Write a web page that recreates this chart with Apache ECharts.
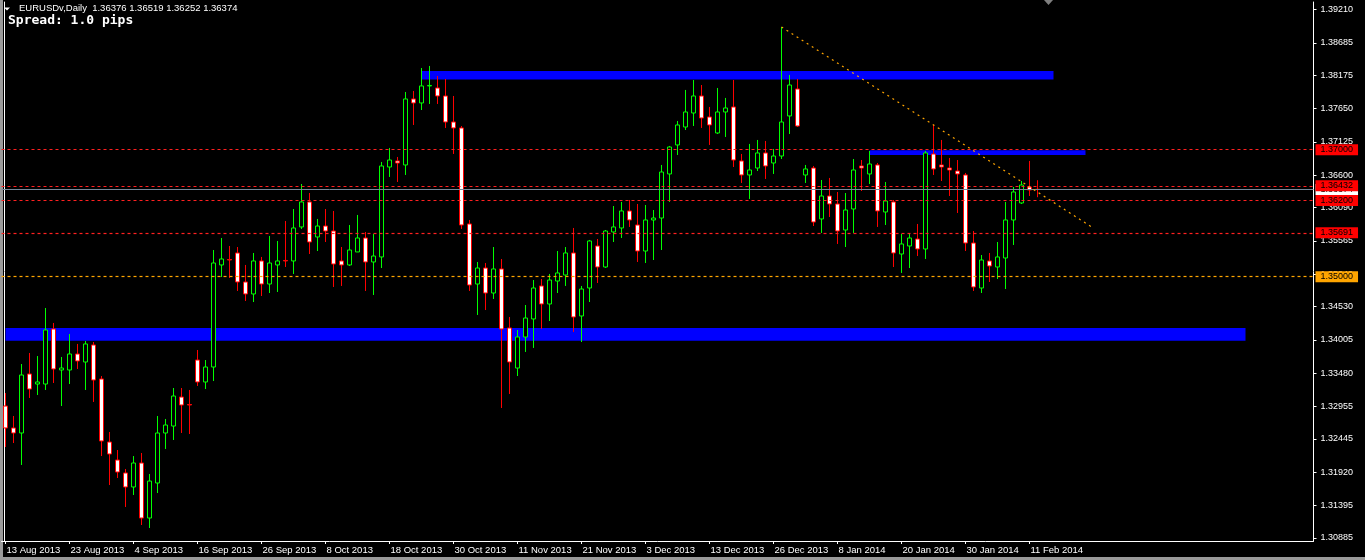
<!DOCTYPE html>
<html><head><meta charset="utf-8">
<script src="https://cdn.jsdelivr.net/npm/echarts@6/dist/echarts.min.js"></script>
<style>html,body{margin:0;padding:0;background:#000;}#c{width:1365px;height:560px;}</style>
</head><body><div id="c"></div>
<script>
// ---------- data ----------
const symbolTitle = 'EURUSDv,Daily';
const headerOHLC = [1.36376, 1.36519, 1.36252, 1.36374];
const spreadText = 'Spread: 1.0 pips';
const firstDay = '2013-08-13';
const marketHolidays = ['2013-12-25', '2014-01-01'];
const totalSlots = 164; // bars + empty chart shift on the right

const opens = [1.32961,1.32615,1.32536,1.33466,1.33308,1.33308,1.34175,1.33529,1.33529,1.33781,
1.33655,1.33923,1.33387,1.32394,1.32110,1.31906,1.31685,1.32063,1.31196,1.31748,
1.32536,1.32646,1.33103,1.32985,1.33686,1.33340,1.33576,1.35184,1.35270,1.35373,
1.34916,1.34727,1.35247,1.34884,1.35184,1.35255,1.35247,1.35783,1.36177,1.35625,
1.35798,1.35719,1.35247,1.35184,1.35389,1.35609,1.35231,1.35310,1.36728,1.36823,
1.36760,1.37800,1.37737,1.38005,1.37973,1.37847,1.37437,1.37343,1.35830,1.34884,
1.35136,1.34742,1.35121,1.34191,1.33560,1.34049,1.34333,1.34853,1.34569,1.34931,
1.35026,1.35373,1.34380,1.34821,1.35483,1.35152,1.35704,1.35767,1.36035,1.35814,
1.35404,1.35893,1.35924,1.36618,1.37075,1.37358,1.37579,1.37847,1.37516,1.37264,
1.37595,1.37674,1.36823,1.36602,1.36712,1.36949,1.36791,1.36901,1.37532,1.37957,
1.36602,1.36712,1.35909,1.36271,1.36145,1.35735,1.36066,1.36744,1.36618,1.36760,
1.36019,1.36177,1.35357,1.35483,1.35593,1.35436,1.36933,1.36760,1.36712,1.36665,
1.36602,1.35530,1.34821,1.35247,1.35152,1.35294,1.35893,1.36161,1.36413,1.36376];

const closes = [1.32615,1.32536,1.33450,1.33229,1.33340,1.34159,1.33545,1.33560,1.33781,1.33671,
1.33939,1.33371,1.32410,1.32205,1.31921,1.31685,1.32063,1.31196,1.31779,1.32536,
1.32662,1.33119,1.32977,1.32977,1.33340,1.33576,1.35215,1.35278,1.35262,1.34916,
1.34727,1.35247,1.34884,1.35215,1.35247,1.35247,1.35767,1.36177,1.35546,1.35798,
1.35719,1.35199,1.35184,1.35420,1.35609,1.35231,1.35325,1.36744,1.36838,1.36791,
1.37800,1.37737,1.38005,1.38013,1.37847,1.37437,1.37343,1.35814,1.34868,1.35136,
1.34742,1.35121,1.34175,1.33655,1.34049,1.34348,1.34821,1.34569,1.34947,1.35058,
1.35373,1.34364,1.34805,1.35562,1.35152,1.35719,1.35783,1.36035,1.35893,1.35404,
1.35893,1.35924,1.36649,1.37043,1.37390,1.37595,1.37847,1.37500,1.37390,1.37595,
1.37658,1.36838,1.36602,1.36681,1.36949,1.36744,1.36901,1.37437,1.38020,1.37374,
1.36697,1.35861,1.36271,1.36145,1.35719,1.36050,1.36681,1.36712,1.36775,1.36035,
1.36192,1.35373,1.35515,1.35609,1.35436,1.36949,1.36697,1.36728,1.36681,1.36618,
1.35530,1.34837,1.35262,1.35168,1.35310,1.35893,1.36334,1.36444,1.36366,1.36374];

const highs = [1.33166,1.32804,1.33623,1.33797,1.33749,1.34506,1.34270,1.33734,1.34096,1.33939,
1.33986,1.33970,1.33434,1.32552,1.32268,1.31969,1.32173,1.32221,1.31890,1.32804,
1.32757,1.33245,1.33245,1.33214,1.33844,1.33686,1.35420,1.35609,1.35483,1.35467,
1.35184,1.35373,1.35310,1.35641,1.35562,1.35877,1.36066,1.36460,1.36318,1.35909,
1.36066,1.36035,1.35467,1.35814,1.35972,1.35704,1.35672,1.36807,1.37028,1.36886,
1.37910,1.37926,1.38288,1.38320,1.38162,1.38115,1.37847,1.37374,1.35893,1.35231,
1.35215,1.35467,1.35278,1.34364,1.34159,1.34553,1.34947,1.34963,1.35042,1.35404,
1.35467,1.35767,1.34853,1.35578,1.35593,1.35735,1.36113,1.36177,1.36208,1.36145,
1.36129,1.36050,1.36760,1.37059,1.37453,1.37942,1.38099,1.38020,1.37674,1.37973,
1.37816,1.38099,1.36933,1.37091,1.37154,1.37138,1.37012,1.38935,1.38178,1.38115,
1.36760,1.36744,1.36523,1.36555,1.36334,1.36318,1.36854,1.36838,1.36980,1.36791,
1.36492,1.36208,1.35672,1.35672,1.35830,1.36980,1.37390,1.37154,1.36870,1.36838,
1.36634,1.35719,1.35341,1.35373,1.35546,1.36177,1.36413,1.36507,1.36823,1.36519];

const lows = [1.32315,1.32378,1.32032,1.33088,1.33135,1.33214,1.33324,1.32961,1.33308,1.33545,
1.33214,1.33025,1.32173,1.31716,1.31827,1.31370,1.31559,1.31086,1.31039,1.31590,
1.32284,1.32426,1.32536,1.32520,1.33277,1.33229,1.33355,1.34994,1.34979,1.34774,
1.34616,1.34600,1.34695,1.34742,1.34758,1.35152,1.35042,1.35751,1.35357,1.35404,
1.35546,1.34837,1.34853,1.35168,1.35389,1.34774,1.34711,1.35136,1.36571,1.36492,
1.36602,1.37390,1.37626,1.37721,1.37721,1.37343,1.36933,1.35751,1.34774,1.34396,
1.34474,1.34648,1.32930,1.33151,1.33434,1.33813,1.33876,1.34175,1.34301,1.34742,
1.34853,1.34128,1.33970,1.34600,1.34900,1.35136,1.35546,1.35609,1.35783,1.35231,
1.35215,1.35262,1.35420,1.36177,1.36917,1.37311,1.37374,1.37343,1.37075,1.37248,
1.37201,1.36728,1.36476,1.36224,1.36665,1.36539,1.36618,1.36854,1.37248,1.37358,
1.36476,1.35798,1.35688,1.35940,1.35515,1.35467,1.35688,1.36350,1.36460,1.35783,
1.35814,1.35152,1.35058,1.35136,1.35325,1.35278,1.36602,1.36507,1.36271,1.36003,
1.35404,1.34774,1.34742,1.34916,1.34963,1.34805,1.35499,1.36145,1.36271,1.36252];

const xTickLabels = ['13 Aug 2013','23 Aug 2013','4 Sep 2013','16 Sep 2013','26 Sep 2013','8 Oct 2013',
'18 Oct 2013','30 Oct 2013','11 Nov 2013','21 Nov 2013','3 Dec 2013','13 Dec 2013','26 Dec 2013',
'8 Jan 2014','20 Jan 2014','30 Jan 2014','11 Feb 2014'];

const yTickValues = [1.30885,1.31395,1.31920,1.32445,1.32955,1.33480,1.34005,1.34530,1.35040,
1.35565,1.36090,1.36600,1.37125,1.37650,1.38175,1.38685,1.39210];

const redLevels = [1.37000, 1.36432, 1.36200, 1.35691];
const roundLevel = 1.35000;
const currentPrice = 1.36374;

// blue rectangles: [startBar, endBar, upperPrice, lowerPrice]
const zoneStart = [52, 0, 108];
const zoneEnd = [131, 155, 135];
const zoneUpper = [1.38241, 1.34191, 1.36991];
const zoneLower = [1.38107, 1.33990, 1.36917];

// trendline: [bar, price]
const trendFrom = [97, 1.38935];
const trendTo = [136, 1.35764];

// ---------- build ----------
const MONTHS = ['Jan','Feb','Mar','Apr','May','Jun','Jul','Aug','Sep','Oct','Nov','Dec'];
const categories = [];
(function () {
  const d = new Date(firstDay + 'T00:00:00Z');
  while (categories.length < totalSlots) {
    const wd = d.getUTCDay();
    const iso = d.toISOString().slice(0, 10);
    if (wd !== 0 && wd !== 6 && marketHolidays.indexOf(iso) < 0) {
      categories.push(d.getUTCDate() + ' ' + MONTHS[d.getUTCMonth()] + ' ' + d.getUTCFullYear());
    }
    d.setUTCDate(d.getUTCDate() + 1);
  }
})();
const candles = opens.map((o, i) => [o, closes[i], lows[i], highs[i]]);
const showTick = (i, v) => xTickLabels.indexOf(v) >= 0;

const FONT = '"Liberation Sans", Arial, sans-serif';
const Y_MIN = 1.30834, Y_MAX = 1.39328;

const levelLabel = (bg) => ({
  show: true, position: 'end', distance: 2,
  formatter: p => Number(p.value).toFixed(5),
  backgroundColor: bg, color: '#000', fontSize: 9, fontFamily: FONT,
  padding: [1, 5, 0, 5], lineHeight: 10
});

const markLineData = [
  { yAxis: currentPrice, lineStyle: { color: '#778899', type: 'solid', width: 1 }, label: levelLabel('#ffffff') }
];
redLevels.forEach(v => markLineData.push({ yAxis: v, lineStyle: { color: '#ff2020', type: [3, 3], width: 1.2 }, label: levelLabel('#ff0000') }));
markLineData.push({ yAxis: roundLevel, lineStyle: { color: '#ffa500', type: [3, 3], width: 1.2 }, label: levelLabel('#ffa500') });
markLineData.push([
  { coord: trendFrom, lineStyle: { color: '#ffa500', type: [2, 4], width: 1.2 }, label: { show: false } },
  { coord: trendTo }
]);

const areaData = zoneStart.map((s, i) => [
  { xAxis: s, yAxis: zoneUpper[i] },
  { xAxis: zoneEnd[i], yAxis: zoneLower[i] }
]);

const chart = echarts.init(document.getElementById('c'), null, { renderer: 'canvas' });
chart.setOption({
  animation: false,
  backgroundColor: '#000000',
  grid: { left: 1.5, top: 2, width: 1312, height: 539, containLabel: false },
  xAxis: {
    type: 'category', data: categories, boundaryGap: true,
    axisLine: { show: true, lineStyle: { color: '#ffffff', width: 1 } },
    axisTick: { show: true, alignWithLabel: true, interval: showTick, length: 3, lineStyle: { color: '#ffffff' } },
    axisLabel: { interval: showTick, align: 'left', color: '#ffffff', fontSize: 9.5, fontFamily: FONT, margin: 4, padding: [0, 0, 0, 1] },
    splitLine: { show: false }
  },
  yAxis: [{
    type: 'value', position: 'right', min: Y_MIN, max: Y_MAX,
    axisLine: { show: true, lineStyle: { color: '#ffffff', width: 1 } },
    axisTick: { show: true, length: 3, lineStyle: { color: '#ffffff' }, customValues: yTickValues },
    axisLabel: { color: '#ffffff', fontSize: 9, fontFamily: FONT, margin: 7, customValues: yTickValues, formatter: v => Number(v).toFixed(5) },
    splitLine: { show: false }
  }, {
    type: 'value', position: 'left', offset: -2.5, min: Y_MIN, max: Y_MAX,
    axisLine: { show: true, lineStyle: { color: '#ffffff', width: 1 } },
    axisTick: { show: false }, axisLabel: { show: false }, splitLine: { show: false }
  }],
  series: [
    {
      name: 'zones', type: 'line', data: [], z: 1, silent: true,
      markArea: { silent: true, itemStyle: { color: '#0000ff', opacity: 1 }, data: areaData }
    },
    {
      name: 'EURUSDv', type: 'candlestick', data: candles, z: 2, barWidth: 4, clip: false,
      itemStyle: { color: '#000000', color0: '#ffffff', borderColor: '#00ff00', borderColor0: '#ff0000', borderWidth: 1 }
    },
    {
      name: 'levels', type: 'line', data: [], z: 3, silent: true,
      markLine: { silent: true, precision: 5, symbol: ['none', 'none'], animation: false, data: markLineData }
    }
  ],
  graphic: [
    { type: 'rect', left: 0, top: 0, shape: { width: 3, height: 560 }, style: { fill: '#9a9a9a' }, silent: true },
    { type: 'rect', left: 0, top: 557, shape: { width: 1365, height: 3 }, style: { fill: '#9a9a9a' }, silent: true },
    { type: 'polygon', shape: { points: [[4, 7.5], [10, 7.5], [7, 10.5]] }, style: { fill: '#ffffff' }, silent: true },
    { type: 'text', x: 19, y: 3, style: { text: symbolTitle + '  ' + headerOHLC.map(v => v.toFixed(5)).join(' '), fill: '#ffffff', font: '9.5px ' + FONT }, silent: true },
    { type: 'text', x: 8, y: 14, style: { text: spreadText, fill: '#ffffff', font: 'bold 13px "DejaVu Sans Mono", monospace' }, silent: true },
    { type: 'polygon', shape: { points: [[1044, 0], [1053, 0], [1048.5, 5]] }, style: { fill: '#7f7f7f' }, silent: true }
  ]
});
</script></body></html>
